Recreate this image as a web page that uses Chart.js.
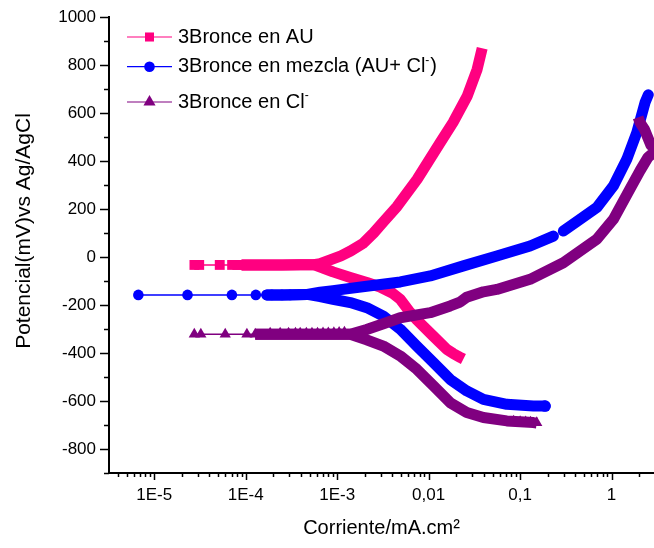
<!DOCTYPE html>
<html>
<head>
<meta charset="utf-8">
<script src="https://cdn.jsdelivr.net/npm/chart.js@4.4.1/dist/chart.umd.min.js"></script>
<style>
  html, body { margin: 0; padding: 0; background: #fff; }
  #wrap { width: 654px; height: 548px; }
</style>
</head>
<body>
<div id="wrap"><canvas id="chart" width="654" height="548"></canvas></div>
<script>
/* ───────── data: current (mA.cm-2) vs potential (mV vs Ag/AgCl) ───────── */

const xTickValues = [1e-5, 1e-4, 1e-3, 1e-2, 1e-1, 1];
const xTickLabels = ['1E-5', '1E-4', '1E-3', '0,01', '0,1', '1'];

const xTitle = 'Corriente/mA.cm²';
const yTitle = 'Potencial(mV)vs Ag/AgCl';

// legend text: odd entries are superscripts
const legendLabels = [
  ['3Bronce en AU'],
  ['3Bronce en mezcla (AU+ Cl', '-', ')'],
  ['3Bronce en Cl', '-'],
];

// 3Bronce en AU
const auSparse = [[2.75e-5, -33], [3.1e-5, -33], [5.2e-5, -33], [7.1e-5, -33], [8.1e-5, -33], [9.0e-5, -33]];
const auMerged = [[9.0e-5, -33], [1.5e-4, -33], [2.5e-4, -33], [4.0e-4, -32], [5.5e-4, -32]];
const auAnodic = [[6.5e-4, -28], [8.4e-4, -12], [1.1e-3, 5], [1.4e-3, 25], [1.92e-3, 57], [2.5e-3, 100],
  [3.18e-3, 145], [4.53e-3, 211], [7.49e-3, 324], [0.0134, 477], [0.0185, 561], [0.0264, 670],
  [0.0339, 782], [0.0385, 870]];
const auCathodic = [[7.0e-4, -46], [9.0e-4, -62], [1.39e-3, -85], [2.11e-3, -106], [2.95e-3, -125], [4.0e-3, -150],
  [4.89e-3, -176], [6.28e-3, -231], [7.43e-3, -262], [0.0112, -329], [0.0158, -385], [0.0185, -402],
  [0.0221, -418], [0.024, -425]];

// 3Bronce en mezcla (AU+ Cl-)
const mzSparse = [[6.7e-6, -158], [2.31e-5, -158], [7.06e-5, -158], [1.29e-4, -158], [1.93e-4, -158],
  [2.49e-4, -158], [3.06e-4, -158], [3.84e-4, -157]];
const mzMerged = [[1.7e-4, -158], [2.5e-4, -158], [3.5e-4, -157], [4.7e-4, -156]];
const mzAnodic = [[6.5e-4, -147], [9.0e-4, -140], [2.1e-3, -122], [4.9e-3, -104], [0.0104, -79], [0.024, -37],
  [0.0556, 4], [0.1285, 46], [0.231, 87], [0.26, null], [0.297, 108], [0.453, 157], [0.689, 206],
  [1.047, 296], [1.466, 407], [1.885, 518], [2.32, 643], [2.52, 676]];
const mzCathodic = [[6.5e-4, -165], [9.0e-4, -176], [1.39e-3, -190], [2.11e-3, -211], [3.2e-3, -246],
  [4.89e-3, -301], [7.43e-3, -371], [0.0113, -440], [0.0172, -510], [0.0261, -558], [0.0397, -593],
  [0.0716, -614], [0.1396, -621], [0.1875, -621]];
const mzMarks = [[0.1875, -621]];

// 3Bronce en Cl-
const clSparse = [[2.74e-5, -322], [3.23e-5, -322], [5.97e-5, -322], [1.03e-4, -322], [1.27e-4, -322]];
const clMerged = [[1.27e-4, -322], [3.0e-4, -322], [6.0e-4, -322], [1.0e-3, -322], [1.39e-3, -322]];
const clAnodic = [[2.1e-3, -302], [3.2e-3, -278], [4.89e-3, -253], [0.0104, -232], [0.0172, -204],
  [0.022, -188], [0.026, -168], [0.0397, -145], [0.0556, -135], [0.1285, -93], [0.297, -24], [0.689, 74],
  [1.047, 157], [1.58, 282], [2.05, 360], [2.5, 415], [3.2, 450], [2.7, 465], [2.3, 530], [2.05, 560],
  [1.95, 582]];
const clCathodic = [[2.1e-3, -345], [3.2e-3, -371], [4.89e-3, -412], [7.43e-3, -468], [0.0113, -537],
  [0.0172, -607], [0.0261, -648], [0.0397, -669], [0.0716, -683], [0.1396, -690], [0.152, -692]];
const clMarks = [[1.85e-4, -318], [2.38e-4, -318], [2.94e-4, -318], [3.5e-4, -318], [3.94e-4, -318],
  [4.6e-4, -318], [5.3e-4, -318], [6.1e-4, -318], [7.0e-4, -317], [8.0e-4, -317], [9.2e-4, -316],
  [1.05e-3, -315], [1.2e-3, -314], [0.085, -684], [0.1, -686], [0.115, -687], [0.13, -689], [0.152, -691]];

/* ───────────────────────── helpers ───────────────────────── */

const COLORS = { au: '#ff0080', mz: '#0000ff', cl: '#800080' };
const FONT = "'Liberation Sans', Arial, sans-serif";

function pts(list) {
  return list.map((p) => ({ x: p[0], y: p[1] }));
}

// thick band = the densely packed markers of the measured curve
function band(list, color, order, cap) {
  return {
    data: pts(list), showLine: true, borderColor: color, backgroundColor: color,
    borderWidth: 11, borderCapStyle: cap, borderJoinStyle: 'round',
    pointRadius: 0, pointHoverRadius: 0, order,
  };
}

function marks(list, color, style, radius, order, lineWidth) {
  return {
    data: pts(list), showLine: lineWidth > 0, borderColor: color, backgroundColor: color,
    borderWidth: lineWidth, pointStyle: style, pointRadius: radius, pointBorderWidth: 0,
    pointBackgroundColor: color, order,
  };
}

const datasets = [
  // purple on top, then blue, then pink (Origin plot order)
  band(clMerged.concat(clCathodic), COLORS.cl, 1, 'butt'),
  band(clMerged.concat(clAnodic), COLORS.cl, 1, 'butt'),
  marks(clSparse, COLORS.cl, 'triangle', 6.5, 1, 1.5),
  marks(clMarks, COLORS.cl, 'triangle', 6.5, 1, 0),

  band(mzMerged.concat(mzCathodic), COLORS.mz, 2, 'round'),
  band(mzMerged.concat(mzAnodic), COLORS.mz, 2, 'round'),
  marks(mzSparse, COLORS.mz, 'circle', 5.3, 2, 1.5),
  marks(mzMarks, COLORS.mz, 'circle', 5.8, 2, 0),

  band(auMerged.concat(auCathodic), COLORS.au, 3, 'butt'),
  band(auMerged.concat(auAnodic), COLORS.au, 3, 'butt'),
  marks(auSparse, COLORS.au, 'rect', 7, 3, 1.5),
];

/* ───────────────────────── plugins ───────────────────────── */

// outward tick marks, long for labelled ticks, short for minor ones
const tickMarks = {
  id: 'tickMarks',
  afterDraw(chart) {
    const { ctx, chartArea, scales: { x, y } } = chart;
    ctx.save();
    ctx.strokeStyle = '#000';
    ctx.lineWidth = 1.5;
    x.ticks.forEach((t) => {
      const px = Math.round(x.getPixelForValue(t.value)) + 0.5;
      const len = t.label ? 7 : 4;
      ctx.beginPath();
      ctx.moveTo(px, chartArea.bottom);
      ctx.lineTo(px, chartArea.bottom + len);
      ctx.stroke();
    });
    y.ticks.forEach((t) => {
      const py = Math.round(y.getPixelForValue(t.value)) + 0.5;
      const len = t.label ? 9 : 5;
      ctx.beginPath();
      ctx.moveTo(chartArea.left, py);
      ctx.lineTo(chartArea.left - len, py);
      ctx.stroke();
    });
    ctx.restore();
  },
};

// y title sits a little above the middle of the axis, as in the original
const yAxisTitle = {
  id: 'yAxisTitle',
  afterDraw(chart, args, opts) {
    const { ctx } = chart;
    ctx.save();
    ctx.translate(opts.x, opts.y);
    ctx.rotate(-Math.PI / 2);
    ctx.font = '21px ' + FONT;
    ctx.fillStyle = '#000';
    ctx.textAlign = 'center';
    ctx.textBaseline = 'middle';
    ctx.fillText(yTitle, 0, 0);
    ctx.restore();
  },
};

// Origin-style legend: line with marker, text with superscripts
const legendBox = {
  id: 'legendBox',
  afterDraw(chart, args, opts) {
    const { ctx } = chart;
    ctx.save();
    opts.items.forEach((it, i) => {
      const yy = opts.rows[i];
      ctx.strokeStyle = it.color;
      ctx.lineWidth = 1.2;
      ctx.beginPath();
      ctx.moveTo(opts.lineX0, yy);
      ctx.lineTo(opts.lineX1, yy);
      ctx.stroke();
      ctx.fillStyle = it.color;
      Chart.helpers.drawPoint(ctx, { pointStyle: it.style, radius: it.radius, rotation: 0, borderWidth: 0 },
        (opts.lineX0 + opts.lineX1) / 2, yy);

      ctx.fillStyle = '#000';
      ctx.textBaseline = 'middle';
      let tx = opts.textX;
      legendLabels[i].forEach((part, k) => {
        const sup = k % 2 === 1;
        ctx.font = (sup ? '12px ' : '20px ') + FONT;
        ctx.fillText(part, tx, sup ? yy - 6 : yy);
        tx += ctx.measureText(part).width + (sup ? 1 : 0);
      });
    });
    ctx.restore();
  },
};

/* ───────────────────────── chart ───────────────────────── */

Chart.defaults.font.family = FONT;
Chart.defaults.color = '#000';

new Chart(document.getElementById('chart'), {
  type: 'scatter',
  data: { datasets },
  plugins: [tickMarks, yAxisTitle, legendBox],
  options: {
    responsive: false,
    animation: false,
    events: [],
    layout: { autoPadding: false, padding: { top: 17, right: 0, bottom: 0, left: 0 } },
    plugins: {
      legend: { display: false },
      tooltip: { enabled: false },
      yAxisTitle: { x: 24, y: 231 },
      legendBox: {
        lineX0: 127, lineX1: 172, textX: 178,
        rows: [37, 66.7, 102],
        items: [
          { color: COLORS.au, style: 'rect', radius: 6.4 },
          { color: COLORS.mz, style: 'circle', radius: 5.3 },
          { color: COLORS.cl, style: 'triangle', radius: 7 },
        ],
      },
    },
    scales: {
      x: {
        type: 'logarithmic',
        min: 3.2e-6,
        max: 2.91,
        grid: { display: false, drawTicks: false },
        border: { display: true, color: '#000', width: 2 },
        afterBuildTicks(scale) {
          const ticks = [];
          for (let e = -6; e <= 0; e++) {
            for (let m = 1; m <= 9; m++) {
              const v = m * Math.pow(10, e);
              if (v >= scale.min && v <= scale.max) ticks.push({ value: v });
            }
          }
          scale.ticks = ticks;
        },
        afterFit(scale) {
          scale.height = 75;
          scale.paddingLeft = 0;
          scale.paddingRight = 0;
        },
        ticks: {
          autoSkip: false,
          maxRotation: 0,
          padding: 12,
          font: { size: 17 },
          callback(value) {
            const i = xTickValues.findIndex((t) => Math.abs(value / t - 1) < 1e-6);
            return i >= 0 ? xTickLabels[i] : '';
          },
        },
        title: {
          display: true,
          text: xTitle,
          font: { size: 20 },
          padding: { top: 0, bottom: 8 },
        },
      },
      y: {
        min: -900,
        max: 1000,
        grid: { display: false, drawTicks: false },
        border: { display: true, color: '#000', width: 2 },
        afterFit(scale) {
          scale.width = 109;
          scale.paddingTop = 0;
          scale.paddingBottom = 0;
        },
        ticks: {
          stepSize: 100,
          autoSkip: false,
          padding: 13,
          font: { size: 17 },
          callback: (v) => (v % 200 === 0 ? String(v) : ''),
        },
      },
    },
  },
});
</script>
</body>
</html>
